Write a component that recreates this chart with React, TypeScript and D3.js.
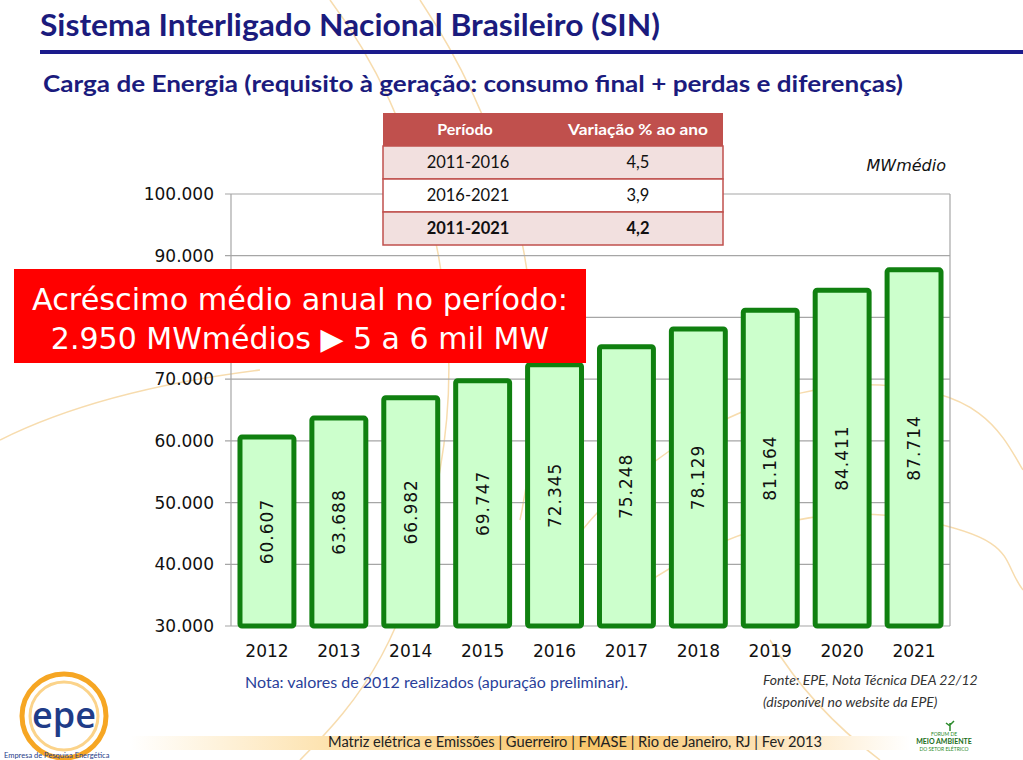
import * as d3 from 'd3';

const years = ['2012', '2013', '2014', '2015', '2016', '2017', '2018', '2019', '2020', '2021'];
const carga = [60607, 63688, 66982, 69747, 72345, 75248, 78129, 81164, 84411, 87714];
const yTicks = [30000, 40000, 50000, 60000, 70000, 80000, 90000, 100000];

const periodos = ['2011-2016', '2016-2021', '2011-2021'];
const variacao = ['4,5', '3,9', '4,2'];

const W = 1023;
const H = 760;
const plot = { left: 231, right: 950, top: 194, bottom: 626 };
const callout = { x: 14, y: 269, w: 572, h: 94 };

const fmt = (v: number) => d3.format(',')(v).replace(/,/g, '.');

export default function App() {
  const x = d3
    .scaleBand<string>()
    .domain(years)
    .range([plot.left, plot.right])
    .paddingInner(0.25)
    .paddingOuter(0.125);
  const y = d3.scaleLinear().domain([30000, 100000]).range([plot.bottom, plot.top]);

  const tahoma = '"DejaVu Sans", Verdana, sans-serif';
  const calibri = 'Lato, "Open Sans", sans-serif';
  const navy = '#1b1b7d';
  const green = '#108010';

  const tbl = { x0: 383, x1: 723, top: 113, head: 33, row: 33 };

  // the callout box hides the tick labels that fall behind it
  const hidden = (t: number) => y(t) > callout.y && y(t) < callout.y + callout.h;

  return (
    <svg
      width={W}
      height={H}
      style={{ position: 'absolute', left: 0, top: 0, background: '#fff' }}
    >
      <defs>
        <linearGradient id="foot" x1="0" x2="1" y1="0" y2="0">
          <stop offset="0" stopColor="#fff" />
          <stop offset="0.25" stopColor="#fde3b0" />
          <stop offset="0.6" stopColor="#f9c66a" />
          <stop offset="0.85" stopColor="#fde8c4" />
          <stop offset="1" stopColor="#fff" />
        </linearGradient>
      </defs>

      {/* faint decorative arcs */}
      <g fill="none" stroke="#f7dcae" strokeWidth={1.5}>
        <path d="M330,0 C420,120 470,300 440,470 S360,700 300,760" />
        <path d="M420,0 C520,150 560,330 520,520" />
        <path d="M560,560 C640,440 780,380 880,385 S1000,430 1023,470" />
        <path d="M600,620 C700,530 820,500 920,520 S1000,560 1023,590" />
        <path d="M0,440 C80,400 180,380 260,370" />
        <path d="M770,640 C800,690 840,730 880,760" />
      </g>

      {/* title */}
      <text
        x={40}
        y={36}
        fontFamily={calibri}
        fontWeight={700}
        fontSize={30}
        fill={navy}
        textLength={620}
        lengthAdjust="spacingAndGlyphs"
      >
        Sistema Interligado Nacional Brasileiro (SIN)
      </text>
      <rect x={40} y={50} width={W - 40} height={4} fill="#1b1b8c" />
      <text
        x={43}
        y={92}
        fontFamily={calibri}
        fontWeight={700}
        fontSize={23}
        fill={navy}
        textLength={860}
        lengthAdjust="spacingAndGlyphs"
      >
        Carga de Energia (requisito à geração: consumo final + perdas e diferenças)
      </text>

      {/* grid */}
      <g stroke="#a6a6a6" strokeWidth={1.2}>
        {yTicks.map((t) => (
          <line key={t} x1={plot.left - 6} x2={plot.right} y1={y(t)} y2={y(t)} />
        ))}
        <line x1={plot.left} x2={plot.left} y1={plot.top} y2={plot.bottom} />
        <line x1={plot.right} x2={plot.right} y1={plot.top} y2={plot.bottom} />
      </g>
      <g fontFamily={tahoma} fontSize={17} fill="#111" textAnchor="end">
        {yTicks
          .filter((t) => !hidden(t))
          .map((t) => (
            <text key={t} x={plot.left - 17} y={y(t) + 6}>
              {fmt(t)}
            </text>
          ))}
      </g>

      {/* bars */}
      {years.map((yr, i) => {
        const bx = x(yr) as number;
        const bw = x.bandwidth();
        const top = y(carga[i]);
        const cx = bx + bw / 2;
        const cy = (top + plot.bottom) / 2;
        return (
          <g key={yr}>
            <rect
              x={bx}
              y={top}
              width={bw}
              height={plot.bottom - top}
              fill="#ccffcc"
              stroke={green}
              strokeWidth={5}
              rx={2}
            />
            <text
              transform={`translate(${cx + 6},${cy}) rotate(-90)`}
              textAnchor="middle"
              fontFamily={tahoma}
              fontSize={17}
              letterSpacing={1}
              fill="#111"
            >
              {fmt(carga[i])}
            </text>
            <text
              x={cx}
              y={plot.bottom + 31}
              textAnchor="middle"
              fontFamily={tahoma}
              fontSize={17}
              fill="#111"
            >
              {yr}
            </text>
          </g>
        );
      })}

      <text
        x={946}
        y={171}
        textAnchor="end"
        fontFamily={tahoma}
        fontStyle="italic"
        fontSize={16}
        fill="#111"
      >
        MWmédio
      </text>

      {/* table */}
      <g>
        <rect x={tbl.x0} y={tbl.top} width={tbl.x1 - tbl.x0} height={tbl.head} fill="#c0504d" />
        <text
          x={465}
          y={tbl.top + 22}
          textAnchor="middle"
          fontFamily={calibri}
          fontWeight={700}
          fontSize={16}
          fill="#fff"
        >
          Período
        </text>
        <text
          x={638}
          y={tbl.top + 22}
          textAnchor="middle"
          fontFamily={calibri}
          fontWeight={700}
          fontSize={16}
          fill="#fff"
          textLength={140}
          lengthAdjust="spacingAndGlyphs"
        >
          Variação % ao ano
        </text>
        {periodos.map((p, i) => {
          const ry = tbl.top + tbl.head + i * tbl.row;
          const bold = i === periodos.length - 1;
          return (
            <g key={p}>
              <rect
                x={tbl.x0}
                y={ry}
                width={tbl.x1 - tbl.x0}
                height={tbl.row}
                fill={i % 2 === 0 ? '#f2e0df' : '#fff'}
                stroke="#c0504d"
                strokeWidth={1.5}
              />
              <text
                x={468}
                y={ry + 22}
                textAnchor="middle"
                fontFamily={calibri}
                fontWeight={bold ? 700 : 400}
                fontSize={16.5}
                fill="#111"
              >
                {p}
              </text>
              <text
                x={638}
                y={ry + 22}
                textAnchor="middle"
                fontFamily={calibri}
                fontWeight={bold ? 700 : 400}
                fontSize={16.5}
                fill="#111"
              >
                {variacao[i]}
              </text>
            </g>
          );
        })}
      </g>

      {/* red callout */}
      <rect x={callout.x} y={callout.y} width={callout.w} height={callout.h} fill="#ff0000" />
      <g fontFamily={tahoma} fontSize={30} fill="#fff" textAnchor="middle">
        <text x={300} y={310} textLength={536} lengthAdjust="spacingAndGlyphs">
          Acréscimo médio anual no período:
        </text>
        <text x={300} y={349}>2.950 MWmédios ▶ 5 a 6 mil MW</text>
      </g>

      {/* notes */}
      <text
        x={245}
        y={688}
        fontFamily={calibri}
        fontSize={15.5}
        fill="#2a3f9a"
        textLength={383}
        lengthAdjust="spacingAndGlyphs"
      >
        Nota: valores de 2012 realizados (apuração preliminar).
      </text>
      <g fontFamily={calibri} fontStyle="italic" fontSize={14} fill="#333">
        <text x={763} y={685}>Fonte: EPE, Nota Técnica DEA 22/12</text>
        <text x={763} y={707}>(disponível no website da EPE)</text>
      </g>

      {/* footer */}
      <rect x={130} y={736} width={780} height={14} fill="url(#foot)" />
      <text
        x={575}
        y={747}
        textAnchor="middle"
        fontFamily={calibri}
        fontSize={14.5}
        fill="#222"
        textLength={494}
        lengthAdjust="spacingAndGlyphs"
      >
        Matriz elétrica e Emissões | Guerreiro | FMASE | Rio de Janeiro, RJ | Fev 2013
      </text>

      {/* epe logo */}
      <g>
        <circle cx={64} cy={716} r={42} fill="none" stroke="#f6a623" strokeWidth={5} />
        <circle cx={64} cy={716} r={34} fill="none" stroke="#fbd38a" strokeWidth={3} />
        <text
          x={64}
          y={728}
          textAnchor="middle"
          fontFamily={'"Open Sans", sans-serif'}
          fontWeight={600}
          fontSize={36}
          fill="#1f3c88"
        >
          epe
        </text>
        <rect x={0} y={690} width={14} height={60} fill="#fff" />
        <text x={4} y={758} fontFamily={calibri} fontSize={7.5} fill="#1f3c88">
          Empresa de Pesquisa Energética
        </text>
      </g>

      {/* FMASE logo */}
      <g fontFamily={calibri} textAnchor="middle">
        <text x={944} y={736} fontSize={5} fill="#2a8a2a">FORUM DE</text>
        <text x={944} y={744} fontSize={7} fontWeight={700} fill="#1a6e1a">
          MEIO AMBIENTE
        </text>
        <text x={944} y={751} fontSize={5} fill="#2a8a2a">DO SETOR ELÉTRICO</text>
        <path d="M950,731 l0,-8 M950,726 l-4,-3 M950,725 l4,-4" stroke="#2a8a2a" strokeWidth={1.5} fill="none" />
      </g>
    </svg>
  );
}
